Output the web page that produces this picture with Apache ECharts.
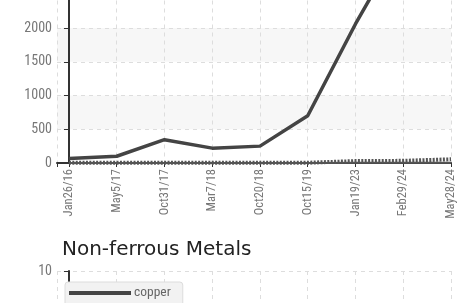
<!DOCTYPE html>
<html><head><meta charset="utf-8">
<script src="https://cdn.jsdelivr.net/npm/echarts@6/dist/echarts.min.js"></script>
<style>html,body{margin:0;padding:0;background:#fff}#c{width:457px;height:303px}</style>
</head><body><div id="c"></div>
<script>
const categories = ['Jan26/16','May5/17','Oct31/17','Mar7/18','Oct20/18','Oct15/19','Jan19/23','Feb29/24','May28/24'];
const mainValues = [65, 100, 345, 220, 250, 700, 2060, 3300, 3700];
const dottedValues = [4, 4, 4, 4, 4, 4, 28, 32, 55];
const baseValues = [1, 1, 1, 1, 1, 1, 3, 3, 5];
const copperValues = [6, 6.2, 6.5, 6.1, 6, 5.8, 6.4, 6.8, 7];
const titleText = 'Non-ferrous Metals';
const legendName = 'copper';

const NARROW = "'Roboto Condensed', 'DejaVu Sans Condensed', sans-serif";
const pairs = vals => vals.map((v, i) => [i, v]);

const xAxisBase = (gridIndex) => ({
  type: 'value', gridIndex, min: -0.25, max: categories.length - 1,
  minInterval: 1, maxInterval: 1,
  axisLine: { show: true, onZero: false, lineStyle: { color: '#333', width: 2 } },
  axisTick: { show: true, length: 4, lineStyle: { color: '#333' } },
  axisLabel: {
    rotate: 90, margin: 6, color: '#777', fontFamily: NARROW, fontSize: 12.5,
    formatter: v => (Number.isInteger(v) && categories[v]) ? categories[v] : '',
    showMinLabel: true, showMaxLabel: true
  },
  splitLine: { show: true, lineStyle: { color: '#ddd', type: [4, 4], width: 1 } }
});

const yAxisBase = (gridIndex, max, interval) => ({
  type: 'value', gridIndex, min: 0, max, interval,
  axisLine: { show: true, lineStyle: { color: '#333', width: 2 } },
  axisTick: { show: true, length: 5, lineStyle: { color: '#333' } },
  axisLabel: { color: '#777', fontFamily: NARROW, fontSize: 14, margin: 5, formatter: v => String(v) },
  splitLine: { show: true, lineStyle: { color: '#ddd', type: [4, 4] } },
  splitArea: { show: true, areaStyle: { color: ['rgba(255,255,255,0)', '#f7f7f7'] } }
});

const chart = echarts.init(document.getElementById('c'), null, { renderer: 'canvas' });
chart.setOption({
  animation: false,
  backgroundColor: '#fff',
  title: {
    text: titleText, left: 62, top: 240, padding: 0,
    textStyle: { fontFamily: "'DejaVu Sans', sans-serif", fontWeight: 'normal', fontSize: 20, color: '#222' }
  },
  legend: {
    data: [legendName], left: 65, top: 282, orient: 'vertical',
    icon: 'rect', itemWidth: 62, itemHeight: 4,
    padding: [4, 12, 8, 4], itemGap: 4,
    backgroundColor: '#f2f2f2', borderColor: '#dcdcdc', borderWidth: 1, borderRadius: 3,
    textStyle: { color: '#666', fontFamily: NARROW, fontSize: 13.5, padding: [0, 0, 0, -2] }
  },
  grid: [
    { left: 57, right: 6, top: -39.5, bottom: 140, containLabel: false, outerBoundsMode: 'none' },
    { left: 57, right: 6, top: 271, height: 200, containLabel: false, outerBoundsMode: 'none' }
  ],
  xAxis: [xAxisBase(0), xAxisBase(1)],
  yAxis: [yAxisBase(0, 3000, 500), yAxisBase(1, 10, 2)],
  series: [
    { name: 'main', type: 'line', xAxisIndex: 0, yAxisIndex: 0, data: pairs(mainValues),
      showSymbol: false, lineStyle: { color: '#444', width: 3.5 }, itemStyle: { color: '#444' } },
    { name: 'base', type: 'line', xAxisIndex: 0, yAxisIndex: 0, data: pairs(baseValues),
      showSymbol: false, lineStyle: { color: '#555', width: 2 }, itemStyle: { color: '#555' } },
    { name: 'dotted', type: 'line', xAxisIndex: 0, yAxisIndex: 0, data: pairs(dottedValues),
      showSymbol: false, lineStyle: { color: '#555', width: 4, type: [2, 1.4] }, itemStyle: { color: '#555' } },
    { name: legendName, type: 'line', xAxisIndex: 1, yAxisIndex: 1, data: pairs(copperValues),
      showSymbol: false, lineStyle: { color: '#444', width: 3 }, itemStyle: { color: '#444' } }
  ]
});
</script></body></html>
